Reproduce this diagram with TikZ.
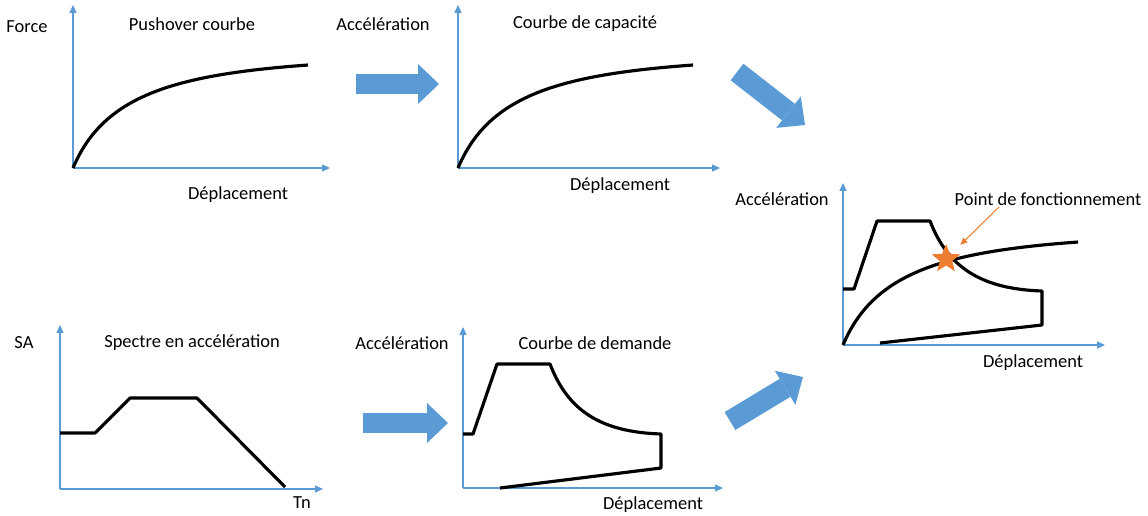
\documentclass[tikz,border=0pt]{standalone}
\usepackage{fontspec}
\setmainfont{Carlito}
\usepackage{tikz}
\usetikzlibrary{arrows.meta, shapes.geometric}

\definecolor{axisblue}{RGB}{91,155,213}
\definecolor{arrowedge}{RGB}{65,113,156}
\definecolor{pforange}{RGB}{237,125,49}

\begin{document}
\begin{tikzpicture}[x=0.02cm, y=-0.02cm,
				    txt/.style={inner sep=0pt, text=black,
				    			font=\fontsize{10.5}{12}\selectfont},
				    axis/.style={draw=axisblue, line width=0.6pt,
				    			 -{Triangle[length=4.5pt 0, width=4pt 0]}},
				    curve/.style={draw=black, line width=1.8pt, line join=round},
				    bigarrow/.style={draw=axisblue, line width=11.9pt,
				    				 -{Triangle[length=11.9pt 0, width=22.7pt 0, line width=0pt]}},
				    pointer/.style={draw=pforange, line width=0.6pt, shorten >=7pt,
				    				-{Triangle[length=4pt 0, width=3.5pt 0]}},
				    pfstar/.style={star, star points=5, star point ratio=2.3,
				    			   fill=pforange, minimum size=0.6cm, inner sep=0pt}]
	\useasboundingbox (0, 0) rectangle (1148, 515);

	\coordinate (o1) at (73, 168);
	\coordinate (o2) at (458, 168);
	\coordinate (o3) at (843, 345);
	\coordinate (o4) at (60, 489);
	\coordinate (o5) at (463, 488);

	\node[txt] (force) at (27, 27) {Force};
	\node[txt] (t1) at (192, 24) {Pushover courbe};
	\node[txt] (d1) at (238, 195) {Déplacement};
	\node[txt] (acc2) at (383, 24) {Accélération};
	\node[txt] (t2) at (585, 24) {Courbe de capacité};
	\node[txt] (d2) at (620, 186) {Déplacement};
	\node[txt] (acc3) at (782, 199) {Accélération};
	\node[txt] (pflbl) at (1048, 199) {Point de fonctionnement};
	\node[txt] (d3) at (1033, 363) {Déplacement};
	\node[txt] (sa) at (24, 343) {SA};
	\node[txt] (t4) at (192, 343) {Spectre en accélération};
	\node[txt] (tn) at (302, 503) {Tn};
	\node[txt] (acc5) at (402, 343) {Accélération};
	\node[txt] (t5) at (595, 343) {Courbe de demande};
	\node[txt] (d5) at (653, 505) {Déplacement};

	\draw[axis] (o1) -- (73, 5);
	\draw[axis] (o1) -- (330, 168);
	\draw[axis] (o2) -- (458, 5);
	\draw[axis] (o2) -- (720, 168);
	\draw[axis] (o3) -- (843, 183);
	\draw[axis] (o3) -- (1105, 345);
	\draw[axis] (o4) -- (60, 325);
	\draw[axis] (o4) -- (323, 489);
	\draw[axis] (o5) -- (463, 327);
	\draw[axis] (o5) -- (723, 488);

	\draw[curve] (o1) .. controls (103, 97) and (170, 75) .. (308, 65);
	\draw[curve] (o2) .. controls (488, 97) and (555, 75) .. (693, 65);
	\draw[curve] (o3) .. controls (873, 274) and (940, 252) .. (1078, 242);
	\draw[curve] (843, 289) -- (854, 289) -- (877, 221) -- (930, 221)
		.. controls (948, 268) and (982, 289) .. (1042, 291) -- (1042, 325) -- (880, 343);
	\draw[curve] (60, 433) -- (95, 433) -- (130, 398) -- (197, 398) -- (285, 487);
	\draw[curve] (463, 434) -- (473, 434) -- (497, 364) -- (550, 364)
		.. controls (568, 411) and (601, 432) .. (661, 434) -- (661, 468) -- (500, 488);

	\node[pfstar] (pf) at (946, 259) {};
	\coordinate (pfs) at (999, 207);
	\draw[pointer] (pfs) -- (pf);

	\coordinate (a1s) at (356, 84);
	\coordinate (a1e) at (439, 84);
	\coordinate (a2s) at (737, 72);
	\coordinate (a2e) at (805, 125);
	\coordinate (a3s) at (363, 423);
	\coordinate (a3e) at (448, 423);
	\coordinate (a4s) at (730, 421);
	\coordinate (a4e) at (803, 377);
	\draw[bigarrow] (a1s) -- (a1e);
	\draw[bigarrow] (a2s) -- (a2e);
	\draw[bigarrow] (a3s) -- (a3e);
	\draw[bigarrow] (a4s) -- (a4e);

\end{tikzpicture}
\end{document}
